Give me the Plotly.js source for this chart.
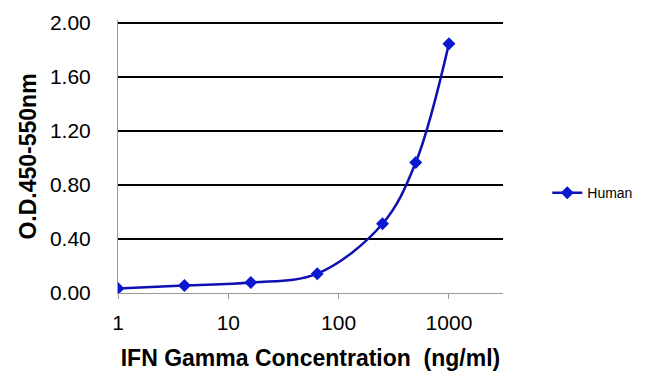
<!DOCTYPE html>
<html>
<head>
<meta charset="utf-8">
<script src="https://cdn.plot.ly/plotly-3.0.1.min.js"></script>
<style>html,body{margin:0;padding:0;background:#fff;}#chart{width:650px;height:385px;}</style>
</head>
<body>
<div id="chart"></div>
<script>
const concentration = [1, 4, 16, 64, 250, 500, 1000];
const odHuman = [0.034, 0.056, 0.078, 0.143, 0.512, 0.965, 1.845];
const xTickVals = [1, 10, 100, 1000];
const xTickText = ['1', '10', '100', '1000'];
const yTickVals = [0, 0.4, 0.8, 1.2, 1.6, 2.0];
const yTickText = ['0.00', '0.40', '0.80', '1.20', '1.60', '2.00'];

const trace = {
  x: concentration,
  y: odHuman,
  name: 'Human',
  type: 'scatter',
  mode: 'lines+markers',
  line: {color: '#1010b0', width: 2.5, shape: 'spline', smoothing: 1},
  marker: {symbol: 'diamond', size: 10, color: '#0a18d0'}
};

const layout = {
  width: 650, height: 385,
  margin: {l: 118, r: 145, t: 20, b: 92},
  paper_bgcolor: '#ffffff', plot_bgcolor: '#ffffff',
  font: {family: 'Arial, Liberation Sans, sans-serif', color: '#000'},
  showlegend: true,
  legend: {x: 1.115, y: 0.366, xanchor: 'left', yanchor: 'middle', font: {size: 14, color: '#000'}, bgcolor: 'rgba(0,0,0,0)'},
  xaxis: {
    type: 'log', range: [0, 3.49],
    tickvals: xTickVals, ticktext: xTickText,
    ticks: 'outside', ticklen: 5, tickcolor: '#999', tickwidth: 1,
    showline: true, linecolor: '#999', linewidth: 1,
    showgrid: false, zeroline: false,
    tickfont: {size: 21, color: '#000'},
    ticklabelstandoff: 6,
    title: {text: '<b>IFN Gamma Concentration  (ng/ml)</b>', font: {size: 23, color: '#000'}, standoff: 16}
  },
  yaxis: {
    range: [0, 2.02],
    tickvals: yTickVals, ticktext: yTickText,
    ticks: '', showline: true, linecolor: '#999', linewidth: 1,
    showgrid: true, gridcolor: '#000', gridwidth: 2,
    zeroline: false,
    tickfont: {size: 21, color: '#000'},
    ticklabelstandoff: 22,
    title: {text: '<b>O.D.450-550nm</b>', font: {size: 23, color: '#000'}, standoff: 6}
  }
};

Plotly.newPlot('chart', [trace], layout, {displayModeBar: false, staticPlot: true});
</script>
</body>
</html>
